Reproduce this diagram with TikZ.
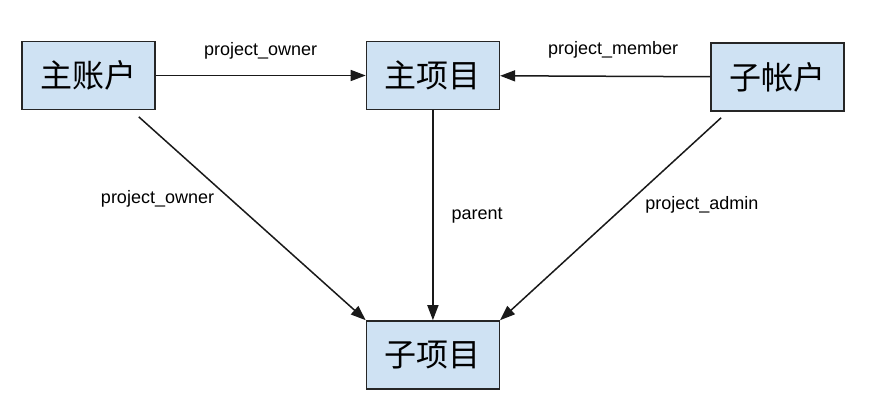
\documentclass[tikz,border=0pt]{standalone}
\usepackage{fontspec}
\setmainfont{Liberation Sans}
\newfontfamily\cjkfont{Noto Sans CJK SC}
\usetikzlibrary{arrows.meta,positioning}
\definecolor{boxcol}{RGB}{207,226,243}

\begin{document}
\begin{tikzpicture}[
  x=1pt, y=1pt,
  node distance=210pt,
  box/.style={rectangle, draw=black!85, line width=1.4pt, fill=boxcol,
              minimum width=133pt, minimum height=68pt, inner sep=0pt,
              font=\cjkfont\fontsize{32}{32}\selectfont},
  lbl/.style={font=\fontsize{18}{18}\selectfont, inner sep=0pt},
  arr/.style={-{Triangle[length=15pt,width=11pt]}, line width=1.5pt,
              draw=black!90},
]
\useasboundingbox (0,0) rectangle (869,-419);

%% Boxes
\node[box] (acct) at (88.5,-75.5) {主账户};
\node[box, right=of acct] (proj) {主项目};
\node[box, right=of proj, yshift=-1.5pt] (sub) {子帐户};
\node[box, below=of proj] (subproj) {子项目};

%% Top row
\draw[arr] (acct) -- node[lbl, yshift=25pt] {project\_owner} (proj);
\draw[arr] (sub) -- node[lbl, xshift=8pt, yshift=26pt] {project\_member} (proj);

%% Down to the sub project
\draw[arr] (proj) -- node[lbl, right=18pt] {parent} (subproj);
\draw[arr, shorten <=10pt] (acct.-39) --
  node[lbl, xshift=-91pt, yshift=16pt] {project\_owner} (subproj.north west);
\draw[arr, shorten <=9pt] (sub.-145) --
  node[lbl, xshift=88pt, yshift=11pt] {project\_admin} (subproj.north east);

\end{tikzpicture}
\end{document}
